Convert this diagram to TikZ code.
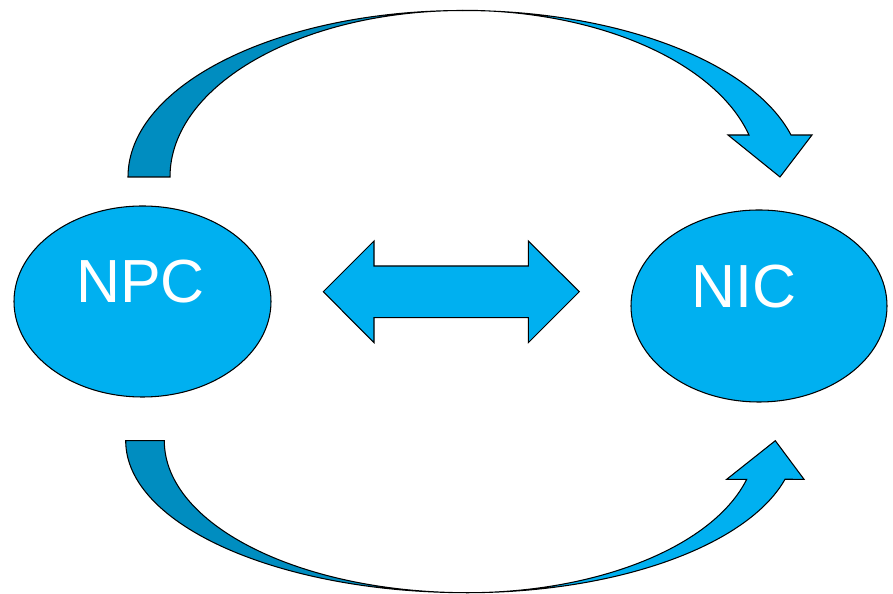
\documentclass[tikz,border=0pt]{standalone}
\usepackage{fontspec}
\setmainfont{Liberation Sans}
\usetikzlibrary{shapes.geometric}

\definecolor{lightblue}{HTML}{00B0F0}
\definecolor{darkblue}{HTML}{008DC0}

\def\px{0.3mm}
\tikzset{node:style/.style={draw,shape=ellipse,fill=lightblue,line width=0.9pt,inner sep=0pt}}
\tikzset{text:style/.style={text=white,inner sep=0pt,font=\fontsize{52}{52}\selectfont}}
\tikzset{band:dark/.style={draw,fill=darkblue,line width=0.9pt,line join=miter}}
\tikzset{band:light/.style={draw,fill=lightblue,line width=0.9pt,line join=miter}}

\begin{document}
\begin{tikzpicture}[x=\px,y=\px]

	\useasboundingbox (0,0) rectangle (893,594);

	% the two ellipses
	\path (142.5,292.5) node[node:style,minimum width=257*\px,minimum height=191*\px] (npc) {};
	\path (759,288) node[node:style,minimum width=256*\px,minimum height=192*\px] (nic) {};
	\path (140.5,312.3) node[text:style] (npctext) {NPC};
	\path (744,307.5) node[text:style] (nictext) {NIC};

	% double arrow between them
	\path[band:light] (323.3,302.3) -- (374,353) -- (374,328) -- (528.3,328) -- (528.3,353)
		-- (579.3,302.3) -- (528.3,251.3) -- (528.3,276.3) -- (374,276.3) -- (374,251.3) -- cycle;

	% top curved arrow
	\path[band:dark] (128,417)
		arc[start angle=180,end angle=90,x radius=335*\px,y radius=166.5*\px]
		arc[start angle=90,end angle=180,x radius=293*\px,y radius=166.5*\px] -- cycle;
	\path[band:light] (463,583.5)
		arc[start angle=90,end angle=14.6,x radius=339*\px,y radius=166.5*\px]
		-- (812,459) -- (780,417) -- (728,459) -- (749,459)
		arc[start angle=14.55,end angle=90,x radius=295.5*\px,y radius=166.5*\px] -- cycle;

	% bottom curved arrow
	\path[band:dark] (125.7,153.3)
		arc[start angle=180,end angle=270,x radius=341.3*\px,y radius=152*\px]
		arc[start angle=270,end angle=180,x radius=302.7*\px,y radius=152*\px] -- cycle;
	\path[band:light] (467,1.3)
		arc[start angle=270,end angle=345.3,x radius=328.8*\px,y radius=152*\px]
		-- (804,114.7) -- (775.3,153.3) -- (726.7,114.7) -- (746.7,114.7)
		arc[start angle=345.3,end angle=270,x radius=289.2*\px,y radius=152*\px] -- cycle;

\end{tikzpicture}
\end{document}
